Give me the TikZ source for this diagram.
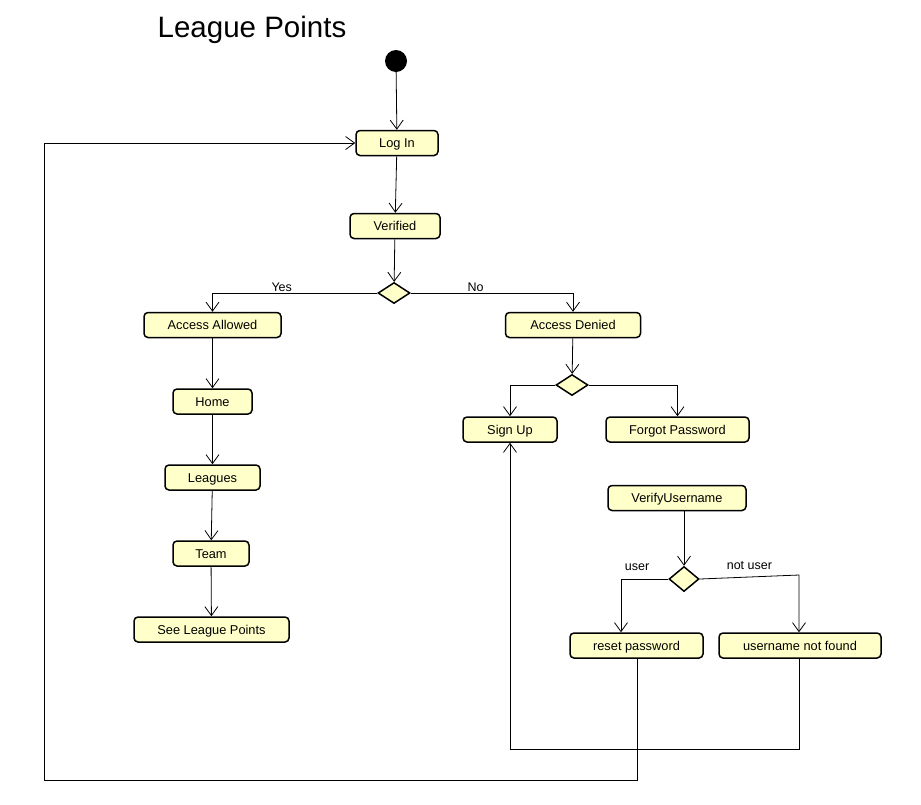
\documentclass[tikz,border=0pt]{standalone}
\usepackage{fontspec}
\setmainfont{Liberation Sans}
\usetikzlibrary{shapes.geometric,arrows.meta}
\definecolor{actfill}{RGB}{255,255,202}
\begin{document}
\begin{tikzpicture}[x=1pt,y=-1pt,
  act/.style={draw, line width=1.5pt, rounded corners=4pt, fill=actfill, minimum height=25pt, inner sep=0pt, text height=9.2pt, text depth=0pt, font=\fontsize{12.8}{14}\selectfont},
  dec/.style={diamond, draw, line width=1.5pt, fill=actfill, minimum width=32pt, minimum height=21pt, inner sep=0pt},
  conn/.style={line width=0.8pt, -{Straight Barb[length=9pt,width=13pt,line width=0.8pt]}},
  lbl/.style={font=\fontsize{12.5}{14}\selectfont, inner sep=1pt}]
\useasboundingbox (0,0) rectangle (921,804);
\node[font=\fontsize{29.5}{32}\selectfont] (title) at (252,30) {League Points};
\node[circle, fill=black, minimum size=22pt, inner sep=0pt] (init) at (396,61) {};
\node[act, minimum width=82pt] (login) at (397,143) {Log In};
\node[act, minimum width=90pt] (verified) at (395,226) {Verified};
\node[dec] (d1) at (394,293) {};
\node[act, minimum width=137pt] (allowed) at (212.5,325) {Access Allowed};
\node[act, minimum width=135pt] (denied) at (573,325) {Access Denied};
\node[act, minimum width=79pt] (home) at (212.5,401.5) {Home};
\node[act, minimum width=95pt] (leagues) at (212.5,477.5) {Leagues};
\node[act, minimum width=76pt] (team) at (211,553.5) {Team};
\node[act, minimum width=155pt] (see) at (211.5,629.5) {See League Points};
\node[dec] (d2) at (572,385) {};
\node[act, minimum width=94pt] (signup) at (510,429.5) {Sign Up};
\node[act, minimum width=143pt] (forgot) at (677.5,429.5) {Forgot Password};
\node[act, minimum width=138pt] (verifyu) at (677,498) {VerifyUsername};
\node[dec, minimum width=30pt, minimum height=25pt] (d3) at (684,579) {};
\node[act, minimum width=133pt] (reset) at (636.5,645.5) {reset password};
\node[act, minimum width=162pt] (unf) at (800,645.5) {username not found};
\coordinate (nu) at (799,575);
\coordinate (r1) at (637,780);
\coordinate (r2) at (44,780);
\coordinate (r3) at (44,143);
\coordinate (u1) at (510,749);

\draw[conn] (init) -- (login);
\draw[conn] (login) -- (verified);
\draw[conn] (verified) -- (d1);
\draw[conn] (d1.west) -| node[lbl, pos=0.29, above] {Yes} (allowed.north);
\draw[conn] (d1.east) -| node[lbl, pos=0.2, above] {No} (denied.north);
\draw[conn] (allowed) -- (home);
\draw[conn] (home) -- (leagues);
\draw[conn] (leagues) -- (team);
\draw[conn] (team) -- (see);
\draw[conn] (denied) -- (d2);
\draw[conn] (d2.west) -| (signup.north);
\draw[conn] (d2.east) -| (forgot.north);
\draw[conn] (verifyu.south -| d3.north) -- (d3.north);
\draw[conn] (d3.west) -| node[lbl, pos=0.33, above=7pt] {user} ([xshift=-15.5pt]reset.north);
\draw[conn] (d3.east) -- node[lbl, above=6pt] {not user} (nu) -- (nu |- unf.north);
\draw[conn] (reset.south -| r1) -- (r1) -- (r2) -- (r3) -- (login.west);
\draw[conn] (unf.south -| nu) |- (u1) -- (signup.south);
\end{tikzpicture}
\end{document}
